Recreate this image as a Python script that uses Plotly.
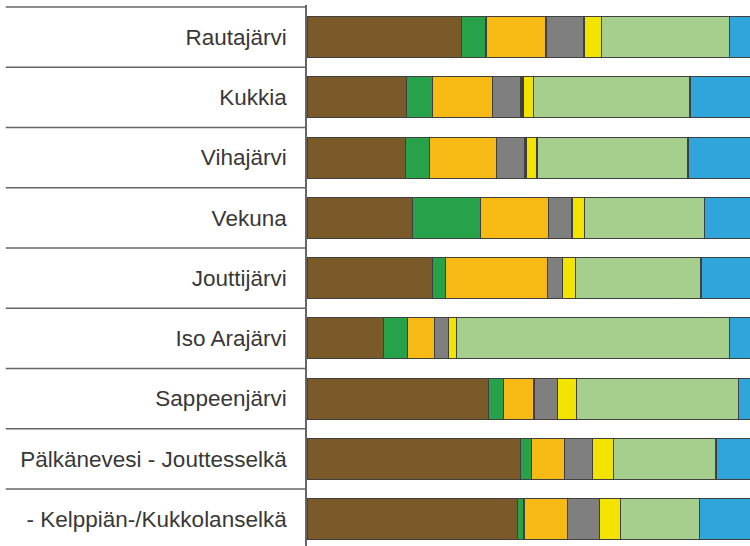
import plotly.graph_objects as go

categories = [
    "Rautajärvi",
    "Kukkia",
    "Vihajärvi",
    "Vekuna",
    "Jouttijärvi",
    "Iso Arajärvi",
    "Sappeenjärvi",
    "Pälkänevesi - Jouttesselkä",
    "- Kelppiän-/Kukkolanselkä",
]

# shares (%) of each class per lake
brown = [32.2, 20.8, 20.6, 22.0, 26.2, 15.9, 37.8, 44.5, 43.8]
green = [5.1, 5.3, 4.9, 14.2, 2.7, 5.1, 3.1, 2.2, 1.4]
orange = [12.5, 12.6, 13.9, 14.1, 21.2, 5.5, 6.4, 7.0, 9.0]
gray = [7.9, 5.9, 6.0, 4.9, 3.2, 2.9, 4.9, 5.8, 6.8]
dark = [0.0, 0.4, 0.4, 0.0, 0.0, 0.0, 0.0, 0.0, 0.0]
yellow = [3.7, 2.2, 2.1, 2.6, 2.6, 1.8, 3.9, 4.4, 4.3]
lightgreen = [26.7, 32.6, 31.5, 25.0, 26.2, 56.8, 33.8, 21.3, 16.5]
blue = [11.9, 20.2, 20.6, 17.2, 17.9, 12.0, 10.1, 14.8, 18.2]

series = [
    ("brown", brown, "#7a5a28"),
    ("green", green, "#27a24a"),
    ("orange", orange, "#f7b913"),
    ("gray", gray, "#7f7f7f"),
    ("dark", dark, "#1e1e1e"),
    ("yellow", yellow, "#f3e400"),
    ("lightgreen", lightgreen, "#a6ce8d"),
    ("blue", blue, "#2fa5dc"),
]

fig = go.Figure()
for name, vals, col in series:
    fig.add_trace(go.Bar(
        y=categories, x=vals, name=name, orientation="h",
        marker=dict(color=col, line=dict(color="#404040", width=1.2)),
        hoverinfo="x+name",
    ))

shapes = []
for k in range(len(categories) + 1):
    shapes.append(dict(
        type="line", xref="paper", yref="y",
        x0=-0.68, x1=0, y0=k - 0.5, y1=k - 0.5,
        line=dict(color="#666666", width=1.6),
    ))

fig.update_layout(
    width=750, height=546,
    margin=dict(l=307, r=0, t=5, b=0, pad=0),
    barmode="stack", bargap=0.32,
    showlegend=False,
    paper_bgcolor="white", plot_bgcolor="white",
    font=dict(family="Liberation Sans, Arial, sans-serif", size=22.5, color="#383838"),
    xaxis=dict(range=[0, 92.3], visible=False, fixedrange=True),
    yaxis=dict(
        type="category",
        categoryorder="array", categoryarray=categories,
        range=[8.446, -0.533],
        showgrid=False, zeroline=False,
        showline=True, linecolor="#666666", linewidth=1.6,
        ticks="", ticklabelstandoff=14,
        tickfont=dict(size=22.5, color="#383838"),
        fixedrange=True,
    ),
    shapes=shapes,
)

fig.write_html(
    "out.html",
    config={"displayModeBar": False},
    post_script="document.body.style.margin='0';document.body.style.overflow='hidden';",
)
